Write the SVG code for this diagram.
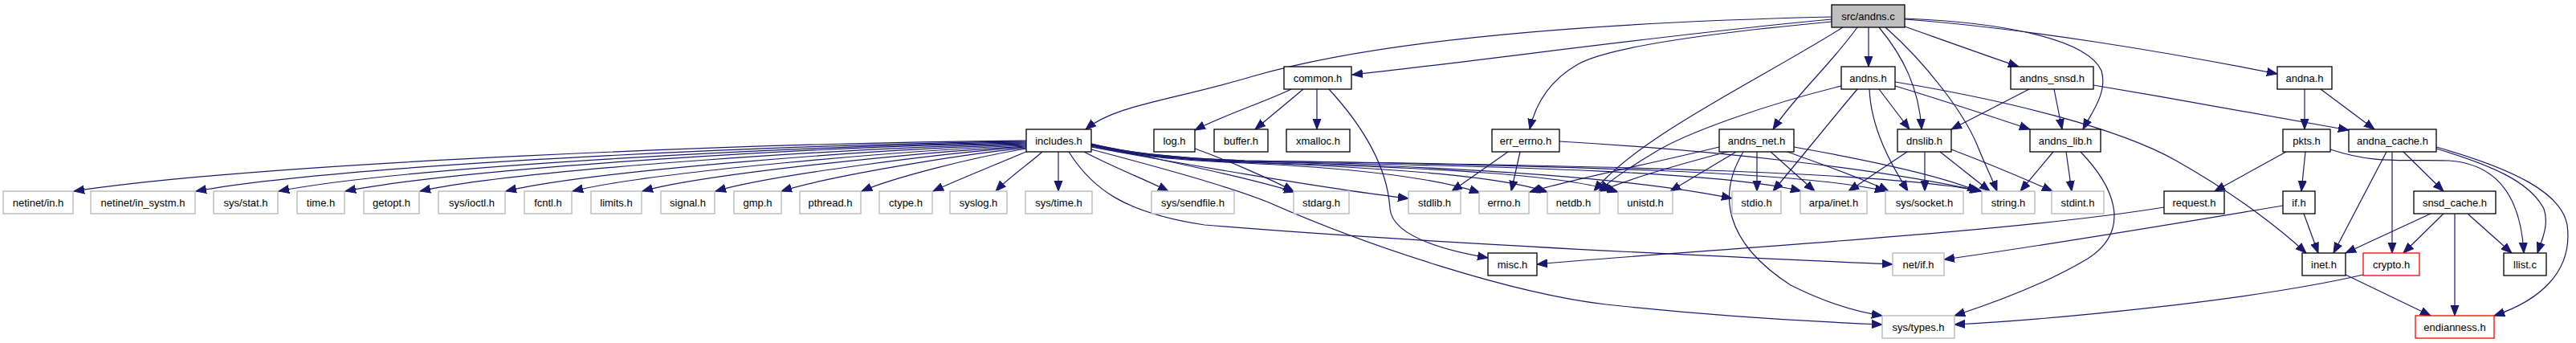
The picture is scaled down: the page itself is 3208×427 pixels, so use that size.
<svg xmlns="http://www.w3.org/2000/svg" width="3208" height="427" viewBox="0 0 3208 427">
<style>
.e{fill:none;stroke:#191970;stroke-width:1.2;marker-end:url(#a)}
.n rect{fill:#fff;stroke:#000;stroke-width:1.3}
.g rect{stroke:#bfbfbf;stroke-width:1.5}
.r rect{stroke:#ff0000}
.s rect{fill:#bfbfbf}
text{font-family:"Liberation Sans",Arial,Helvetica,sans-serif;font-size:13px;text-anchor:middle;fill:#000}
</style>
<defs>
<marker id="a" markerUnits="userSpaceOnUse" viewBox="0 -6 14 12" refX="13" refY="0" markerWidth="14" markerHeight="12" orient="auto">
<polygon points="0,-5 13,0 0,5" fill="#191970" stroke="#191970" stroke-width="1"/>
</marker>
</defs>
<rect width="3208" height="427" fill="#fff"/>
<g id="edges">
<!-- src/andns.c -->
<path class="e" d="M2281,21 C1900,30 1680,60 1560,95 C1460,125 1390,130 1352,161"/>
<path class="e" d="M2281,24 C2100,40 1850,75 1684,93"/>
<path class="e" d="M2281,27 C2120,42 2000,60 1965,80 C1930,100 1912,130 1905,161"/>
<path class="e" d="M2295,34 C2190,100 2040,170 1985,238"/>
<path class="e" d="M2313,34 C2280,80 2235,120 2208,161"/>
<path class="e" d="M2327,34 L2327,83"/>
<path class="e" d="M2340,34 C2370,70 2390,110 2393,161"/>
<path class="e" d="M2348,34 C2400,80 2445,140 2462,180 C2472,205 2482,225 2487,238"/>
<path class="e" d="M2372,33 C2420,50 2470,68 2514,83"/>
<path class="e" d="M2372,24 C2520,35 2700,65 2836,92"/>
<path class="e" d="M2372,23 C2500,28 2600,50 2617,88 C2625,115 2605,140 2594,161"/>
<!-- common.h -->
<path class="e" d="M1608,111 C1580,125 1520,145 1488,162"/>
<path class="e" d="M1623,111 L1563,161"/>
<path class="e" d="M1640,111 L1640,161"/>
<path class="e" d="M1655,111 C1700,160 1728,210 1731,260 C1734,292 1790,310 1853,321"/>
<!-- includes.h left fan -->
<path class="e" d="M1278,175 C950,178 330,202 92,238"/>
<path class="e" d="M1278,176 C1000,179 430,204 244,238"/>
<path class="e" d="M1278,177 C1030,180 510,206 347,238"/>
<path class="e" d="M1278,178 C1050,181 580,208 430,238"/>
<path class="e" d="M1278,179 C1080,183 650,210 523,238"/>
<path class="e" d="M1278,180 C1100,185 740,212 630,238"/>
<path class="e" d="M1278,181 C1130,187 810,214 713,238"/>
<path class="e" d="M1278,182 C1150,189 880,216 800,238"/>
<path class="e" d="M1278,183 C1170,191 960,218 891,238"/>
<path class="e" d="M1278,184 C1190,193 1030,220 973,238"/>
<path class="e" d="M1278,185 C1210,196 1110,222 1073,238"/>
<path class="e" d="M1280,188 C1240,205 1190,225 1162,238"/>
<path class="e" d="M1298,189 C1280,205 1255,222 1240,238"/>
<path class="e" d="M1318,189 L1318,238"/>
<!-- includes.h right -->
<path class="e" d="M1350,189 C1390,210 1430,225 1455,238"/>
<path class="e" d="M1359,180 C1450,200 1550,220 1612,239"/>
<path class="e" d="M1359,183 C1450,200 1650,235 1754,247"/>
<path class="e" d="M1359,182 C1400,192 1450,199 1550,203 C1700,210 1790,222 1843,240"/>
<path class="e" d="M1359,181 C1400,191 1450,198 1550,202 C1750,210 1870,220 1927,239"/>
<path class="e" d="M1359,181 C1400,191 1450,198 1550,202 C1800,209 1950,218 2015,239"/>
<path class="e" d="M1359,180 C1400,190 1450,197 1550,201 C1850,208 2050,225 2157,247"/>
<path class="e" d="M1359,180 C1400,190 1450,197 1550,201 C1900,207 2150,215 2243,238"/>
<path class="e" d="M1359,179 C1400,189 1450,196 1550,200 C1950,206 2250,214 2348,238"/>
<path class="e" d="M1359,179 C1400,189 1450,196 1550,200 C2000,206 2350,214 2468,238"/>
<path class="e" d="M1331,189 C1360,235 1400,265 1500,280 C1800,305 2200,322 2357,329"/>
<path class="e" d="M1359,186 C1450,210 1530,232 1580,252 C1700,305 1880,365 2000,379 C2150,395 2270,401 2344,404"/>
<!-- log.h -->
<path class="e" d="M1488,185 C1530,200 1580,222 1611,238"/>
<!-- err_errno.h -->
<path class="e" d="M1878,189 L1808,238"/>
<path class="e" d="M1893,189 L1882,238"/>
<path class="e" d="M1942,176 C2150,188 2350,212 2466,238"/>
<!-- andns_net.h -->
<path class="e" d="M2141,183 C2050,205 1950,225 1905,239"/>
<path class="e" d="M2151,189 C2090,205 2030,222 1993,238"/>
<path class="e" d="M2162,189 L2080,238"/>
<path class="e" d="M2171,189 C2140,240 2145,300 2230,355 C2270,375 2310,388 2344,393"/>
<path class="e" d="M2188,189 L2188,238"/>
<path class="e" d="M2205,189 L2260,238"/>
<path class="e" d="M2226,189 C2270,205 2320,222 2352,238"/>
<path class="e" d="M2234,183 C2330,200 2420,220 2463,238"/>
<!-- andns.h -->
<path class="e" d="M2293,107 C2200,130 2100,165 2060,190 C2030,208 2005,225 1991,238"/>
<path class="e" d="M2313,111 C2280,150 2240,200 2208,238"/>
<path class="e" d="M2328,111 C2330,160 2355,205 2376,238"/>
<path class="e" d="M2340,111 L2378,161"/>
<path class="e" d="M2360,107 C2420,125 2480,145 2528,161"/>
<path class="e" d="M2360,102 C2500,125 2640,160 2710,200 C2790,245 2845,290 2872,315"/>
<!-- andns_snsd.h -->
<path class="e" d="M2527,111 L2430,161"/>
<path class="e" d="M2558,111 L2568,161"/>
<path class="e" d="M2607,106 C2720,125 2850,148 2925,162"/>
<!-- andna.h -->
<path class="e" d="M2870,111 L2870,161"/>
<path class="e" d="M2890,111 L2957,161"/>
<!-- dnslib.h -->
<path class="e" d="M2375,189 L2302,238"/>
<path class="e" d="M2397,189 L2397,238"/>
<path class="e" d="M2416,189 L2478,238"/>
<path class="e" d="M2430,186 C2480,205 2520,222 2556,238"/>
<!-- andns_lib.h -->
<path class="e" d="M2557,189 L2516,238"/>
<path class="e" d="M2573,189 L2580,238"/>
<path class="e" d="M2591,189 C2640,240 2650,290 2600,322 C2550,352 2480,378 2434,393"/>
<!-- pkts.h -->
<path class="e" d="M2847,189 L2758,238"/>
<path class="e" d="M2871,189 L2866,238"/>
<path class="e" d="M2902,186 C2960,205 2990,198 3050,200 C3120,205 3140,260 3143,315"/>
<!-- andna_cache.h -->
<path class="e" d="M2972,189 L2906,315"/>
<path class="e" d="M2979,189 L2979,315"/>
<path class="e" d="M2993,189 L3043,238"/>
<path class="e" d="M3034,185 C3100,205 3150,225 3168,260 C3175,280 3165,300 3160,315"/>
<path class="e" d="M3034,183 C3130,210 3190,240 3197,280 C3205,340 3160,375 3106,393"/>
<!-- snsd_cache.h -->
<path class="e" d="M3027,266 L2921,315"/>
<path class="e" d="M3043,266 L2993,315"/>
<path class="e" d="M3057,266 L3057,393"/>
<path class="e" d="M3073,266 L3128,315"/>
<!-- if.h -->
<path class="e" d="M2869,266 L2887,315"/>
<path class="e" d="M2843,256 C2700,280 2500,312 2421,323"/>
<!-- request.h -->
<path class="e" d="M2695,258 C2500,290 2100,312 1914,329"/>
<!-- inet.h -->
<path class="e" d="M2921,342 L3027,393"/>
<!-- crypto.h -->
<path class="e" d="M2943,342 C2800,375 2550,398 2434,404"/>
</g>
<!-- row 0 -->
<g id="n_src_andns_c" class="n s"><rect x="2281" y="6" width="91" height="28"/><text x="2326.5" y="24.5">src/andns.c</text></g>
<!-- row 1 -->
<g id="n_common_h" class="n"><rect x="1599" y="83" width="84" height="28"/><text x="1641" y="101.5">common.h</text></g>
<g id="n_andns_h" class="n"><rect x="2293" y="83" width="67" height="28"/><text x="2326.5" y="101.5">andns.h</text></g>
<g id="n_andns_snsd_h" class="n"><rect x="2504" y="83" width="103" height="28"/><text x="2555.5" y="101.5">andns_snsd.h</text></g>
<g id="n_andna_h" class="n"><rect x="2836" y="83" width="68" height="28"/><text x="2870" y="101.5">andna.h</text></g>
<!-- row 2 -->
<g id="n_includes_h" class="n"><rect x="1278" y="161" width="81" height="28"/><text x="1318.5" y="179.5">includes.h</text></g>
<g id="n_log_h" class="n"><rect x="1437" y="161" width="51" height="28"/><text x="1462.5" y="179.5">log.h</text></g>
<g id="n_buffer_h" class="n"><rect x="1512" y="161" width="67" height="28"/><text x="1545.5" y="179.5">buffer.h</text></g>
<g id="n_xmalloc_h" class="n"><rect x="1602" y="161" width="79" height="28"/><text x="1641.5" y="179.5">xmalloc.h</text></g>
<g id="n_err_errno_h" class="n"><rect x="1858" y="161" width="84" height="28"/><text x="1900" y="179.5">err_errno.h</text></g>
<g id="n_andns_net_h" class="n"><rect x="2141" y="161" width="93" height="28"/><text x="2187.5" y="179.5">andns_net.h</text></g>
<g id="n_dnslib_h" class="n"><rect x="2363" y="161" width="67" height="28"/><text x="2396.5" y="179.5">dnslib.h</text></g>
<g id="n_andns_lib_h" class="n"><rect x="2528" y="161" width="88" height="28"/><text x="2572" y="179.5">andns_lib.h</text></g>
<g id="n_pkts_h" class="n"><rect x="2843" y="161" width="59" height="28"/><text x="2872.5" y="179.5">pkts.h</text></g>
<g id="n_andna_cache_h" class="n"><rect x="2925" y="161" width="109" height="28"/><text x="2979.5" y="179.5">andna_cache.h</text></g>
<!-- row 3 -->
<g id="n_netinet_in_h" class="n g"><rect x="4" y="238" width="87" height="28"/><text x="47.5" y="256.5">netinet/in.h</text></g>
<g id="n_netinet_in_systm_h" class="n g"><rect x="113" y="238" width="130" height="28"/><text x="178" y="256.5">netinet/in_systm.h</text></g>
<g id="n_sys_stat_h" class="n g"><rect x="266" y="238" width="80" height="28"/><text x="306" y="256.5">sys/stat.h</text></g>
<g id="n_time_h" class="n g"><rect x="370" y="238" width="59" height="28"/><text x="399.5" y="256.5">time.h</text></g>
<g id="n_getopt_h" class="n g"><rect x="453" y="238" width="69" height="28"/><text x="487.5" y="256.5">getopt.h</text></g>
<g id="n_sys_ioctl_h" class="n g"><rect x="546" y="238" width="83" height="28"/><text x="587.5" y="256.5">sys/ioctl.h</text></g>
<g id="n_fcntl_h" class="n g"><rect x="653" y="238" width="59" height="28"/><text x="682.5" y="256.5">fcntl.h</text></g>
<g id="n_limits_h" class="n g"><rect x="736" y="238" width="63" height="28"/><text x="767.5" y="256.5">limits.h</text></g>
<g id="n_signal_h" class="n g"><rect x="823" y="238" width="67" height="28"/><text x="856.5" y="256.5">signal.h</text></g>
<g id="n_gmp_h" class="n g"><rect x="914" y="238" width="59" height="28"/><text x="943.5" y="256.5">gmp.h</text></g>
<g id="n_pthread_h" class="n g"><rect x="996" y="238" width="76" height="28"/><text x="1034" y="256.5">pthread.h</text></g>
<g id="n_ctype_h" class="n g"><rect x="1095" y="238" width="66" height="28"/><text x="1128" y="256.5">ctype.h</text></g>
<g id="n_syslog_h" class="n g"><rect x="1183" y="238" width="71" height="28"/><text x="1218.5" y="256.5">syslog.h</text></g>
<g id="n_sys_time_h" class="n g"><rect x="1277" y="238" width="83" height="28"/><text x="1318.5" y="256.5">sys/time.h</text></g>
<g id="n_sys_sendfile_h" class="n g"><rect x="1434" y="238" width="103" height="28"/><text x="1485.5" y="256.5">sys/sendfile.h</text></g>
<g id="n_stdarg_h" class="n g"><rect x="1611" y="238" width="69" height="28"/><text x="1645.5" y="256.5">stdarg.h</text></g>
<g id="n_stdlib_h" class="n g"><rect x="1754" y="238" width="65" height="28"/><text x="1786.5" y="256.5">stdlib.h</text></g>
<g id="n_errno_h" class="n g"><rect x="1842" y="238" width="62" height="28"/><text x="1873" y="256.5">errno.h</text></g>
<g id="n_netdb_h" class="n g"><rect x="1927" y="238" width="65" height="28"/><text x="1959.5" y="256.5">netdb.h</text></g>
<g id="n_unistd_h" class="n g"><rect x="2015" y="238" width="68" height="28"/><text x="2049" y="256.5">unistd.h</text></g>
<g id="n_stdio_h" class="n g"><rect x="2157" y="238" width="61" height="28"/><text x="2187.5" y="256.5">stdio.h</text></g>
<g id="n_arpa_inet_h" class="n g"><rect x="2242" y="238" width="83" height="28"/><text x="2283.5" y="256.5">arpa/inet.h</text></g>
<g id="n_sys_socket_h" class="n g"><rect x="2348" y="238" width="97" height="28"/><text x="2396.5" y="256.5">sys/socket.h</text></g>
<g id="n_string_h" class="n g"><rect x="2468" y="238" width="66" height="28"/><text x="2501" y="256.5">string.h</text></g>
<g id="n_stdint_h" class="n g"><rect x="2555" y="238" width="65" height="28"/><text x="2587.5" y="256.5">stdint.h</text></g>
<g id="n_request_h" class="n"><rect x="2695" y="238" width="75" height="28"/><text x="2732.5" y="256.5">request.h</text></g>
<g id="n_if_h" class="n"><rect x="2843" y="238" width="40" height="28"/><text x="2863" y="256.5">if.h</text></g>
<g id="n_snsd_cache_h" class="n"><rect x="3006" y="238" width="102" height="28"/><text x="3057" y="256.5">snsd_cache.h</text></g>
<!-- row 4 -->
<g id="n_misc_h" class="n"><rect x="1853" y="315" width="61" height="28"/><text x="1883.5" y="333.5">misc.h</text></g>
<g id="n_net_if_h" class="n g"><rect x="2357" y="315" width="64" height="28"/><text x="2389" y="333.5">net/if.h</text></g>
<g id="n_inet_h" class="n"><rect x="2867" y="315" width="54" height="28"/><text x="2894" y="333.5">inet.h</text></g>
<g id="n_crypto_h" class="n r"><rect x="2943" y="315" width="70" height="28"/><text x="2978" y="333.5">crypto.h</text></g>
<g id="n_llist_c" class="n"><rect x="3118" y="315" width="53" height="28"/><text x="3144.5" y="333.5">llist.c</text></g>
<!-- row 5 -->
<g id="n_sys_types_h" class="n g"><rect x="2344" y="393" width="90" height="28"/><text x="2389" y="411.5">sys/types.h</text></g>
<g id="n_endianness_h" class="n r"><rect x="3008" y="393" width="98" height="28"/><text x="3057" y="411.5">endianness.h</text></g>
</svg>
